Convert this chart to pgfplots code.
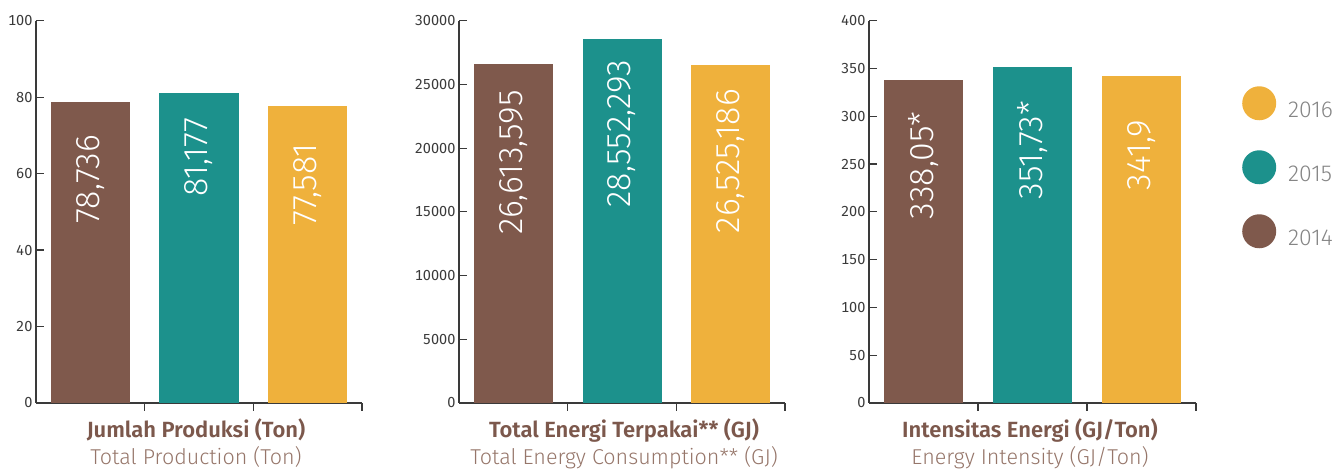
\documentclass[border=0pt]{standalone}
\usepackage{pgfplots}
\pgfplotsset{compat=1.18}
\usepackage{fontspec}
\setmainfont{Fira Sans}[Numbers=Monospaced]
\newfontfamily\lightfont{Fira Sans Light}
\newfontfamily\semifont{Fira Sans SemiBold}

\definecolor{c14}{HTML}{7F594C}
\definecolor{c15}{HTML}{1C918C}
\definecolor{c16}{HTML}{EFB13C}
\definecolor{axisc}{HTML}{3A3A3A}
\definecolor{titlec}{HTML}{7C584C}
\definecolor{subc}{HTML}{96766A}
\definecolor{legc}{HTML}{858585}

\pgfplotsset{
  panel/.style={
    scale only axis, width=326pt, height=382.3pt, anchor=south west,
    xmin=-0.5, xmax=2.5, ymin=0,
    xtick={0.5,1.5,2.5}, xticklabels={},
    axis x line=bottom, axis y line=left,
    axis line style={-, draw=axisc, line width=1.2pt},
    tick style={draw=axisc, line width=1.2pt},
    major tick length=8pt, tick align=inside,
    yticklabel style={font=\fontsize{14.5}{14.5}\selectfont, text=axisc},
    /pgf/number format/assume math mode=true,
    /pgf/number format/1000 sep={},
    scaled y ticks=false,
    ybar, bar width=79pt, bar shift=0pt,
    clip=false,
    every node near coord/.append style={rotate=90, anchor=east, inner sep=0pt,
      font=\lightfont\fontsize{34}{34}\selectfont, text=white},
  },
}

\begin{document}
\begin{tikzpicture}
\useasboundingbox (0,0) rectangle (1336pt,470pt);

% Jumlah Produksi
\begin{axis}[panel, at={(36pt,67pt)}, ymax=100, ytick={0,20,...,100}]
\addplot[fill=c14, draw=none, nodes near coords={78,736},
  every node near coord/.append style={outer xsep=33pt}] coordinates {(0,78.736)};
\addplot[fill=c15, draw=none, nodes near coords={81,177},
  every node near coord/.append style={outer xsep=25pt}] coordinates {(1,81.177)};
\addplot[fill=c16, draw=none, nodes near coords={77,581},
  every node near coord/.append style={outer xsep=37pt}] coordinates {(2,77.581)};
\end{axis}

% Total Energi
\begin{axis}[panel, at={(459pt,67pt)}, ymax=30000, ytick={0,5000,...,30000}]
\addplot[fill=c14, draw=none, nodes near coords={26,613,595},
  every node near coord/.append style={outer xsep=26pt}] coordinates {(0,26613.595)};
\addplot[fill=c15, draw=none, nodes near coords={28,552,293},
  every node near coord/.append style={outer xsep=21pt}] coordinates {(1,28552.293)};
\addplot[fill=c16, draw=none, nodes near coords={26,525,186},
  every node near coord/.append style={outer xsep=24pt}] coordinates {(2,26525.186)};
\end{axis}

% Intensitas Energi
\begin{axis}[panel, at={(869pt,67pt)}, width=327pt, ymax=400, ytick={0,50,...,400},
  legend image code/.code={\fill[#1] (0pt,7.5pt) circle (17pt);},
  reverse legend,
  legend cell align=left,
  legend style={at={(1.1407,0.829)}, anchor=north west, draw=none, fill=none,
    inner sep=0pt, row sep=30pt, nodes={inner sep=0pt},
    font=\lightfont\fontsize{23}{23}\selectfont, text=legc,
    /tikz/every odd column/.append style={column sep=12pt}},
  ]
\addplot[fill=c14, draw=none, nodes near coords={338,05*},
  every node near coord/.append style={outer xsep=32pt}] coordinates {(0,338.05)};
\addplot[fill=c15, draw=none, nodes near coords={351,73*},
  every node near coord/.append style={outer xsep=34pt}] coordinates {(1,351.73)};
\addplot[fill=c16, draw=none, nodes near coords={341,9},
  every node near coord/.append style={outer xsep=44pt}] coordinates {(2,341.9)};
\legend{2014,2015,2016}
\end{axis}

\node[anchor=base, text=titlec, font=\semifont\fontsize{22}{22}\selectfont] at (196pt,32pt) {Jumlah Produksi (Ton)};
\node[anchor=base, text=subc, font=\lightfont\fontsize{21.5}{21.5}\selectfont] at (196pt,5pt) {Total Production (Ton)};
\node[anchor=base, text=titlec, font=\semifont\fontsize{22}{22}\selectfont] at (624pt,32pt) {Total Energi Terpakai** (GJ)};
\node[anchor=base, text=subc, font=\lightfont\fontsize{21.5}{21.5}\selectfont] at (624pt,5pt) {Total Energy Consumption** (GJ)};
\node[anchor=base, text=titlec, font=\semifont\fontsize{22}{22}\selectfont] at (1030pt,32pt) {Intensitas Energi (GJ/Ton)};
\node[anchor=base, text=subc, font=\lightfont\fontsize{21.5}{21.5}\selectfont] at (1030pt,5pt) {Energy Intensity (GJ/Ton)};
\end{tikzpicture}
\end{document}
